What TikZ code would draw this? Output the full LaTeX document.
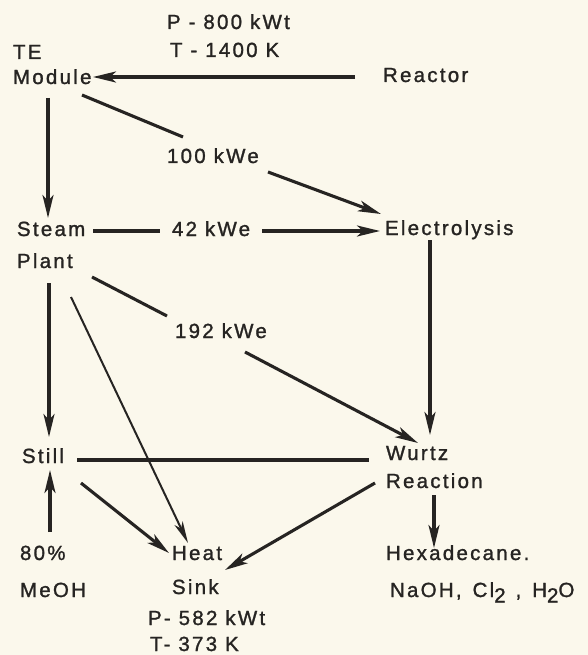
\documentclass[tikz,border=0pt]{standalone}
\usepackage{fontspec}
\setmainfont{Liberation Sans}[LetterSpace=11,FakeBold=1.3]
\usetikzlibrary{arrows.meta}
\definecolor{paper}{HTML}{FBF8EC}
\definecolor{ink}{HTML}{262422}
\newcommand{\lowsub}[1]{\raisebox{-5.5pt}{#1}}
\begin{document}
\begin{tikzpicture}[x=1pt,y=-1pt,
  txt/.style={anchor=base west,inner sep=0pt,outer sep=0pt,text=ink,font=\fontsize{20.5}{24}\selectfont},
  arr/.style={draw=ink,line width=3.1pt,-{Stealth[length=23pt,width=11pt,inset=6pt]}},
  thinarr/.style={draw=ink,line width=2pt,-{Stealth[length=22pt,width=9pt,inset=6pt]}},
  ln/.style={draw=ink,line width=3.1pt}]
\fill[paper] (0,0) rectangle (588,655);
\useasboundingbox (0,0) rectangle (588,655);

\node[txt] (p800) at (167,29) {P - 800 kWt};
\node[txt] (t1400) at (170,57) {T - 1400 K};
\node[txt] (te) at (13,59) {TE};
\node[txt] (module) at (13,84) {Module};
\node[txt] (reactor) at (383,82) {Reactor};
\node[txt] (kwe100) at (167,163) {100 kWe};
\node[txt] (steam) at (17,236) {Steam};
\node[txt] (kwe42) at (172,236) {42 kWe};
\node[txt] (elec) at (385,235) {Electrolysis};
\node[txt] (plant) at (17,268) {Plant};
\node[txt] (kwe192) at (175,338) {192 kWe};
\node[txt] (still) at (22,463) {Still};
\node[txt] (wurtz) at (386,460) {Wurtz};
\node[txt] (reaction) at (386,488) {Reaction};
\node[txt] (p80) at (20,560) {80\%};
\node[txt] (meoh) at (20,597) {MeOH};
\node[txt] (heat) at (172,560) {Heat};
\node[txt] (sink) at (172,594) {Sink};
\node[txt] (hexa) at (386,560) {Hexadecane.};
\node[txt] (naoh) at (390,597) {NaOH,\hspace{3pt} Cl\lowsub{2}\hspace{2pt} ,\hspace{3pt} H\lowsub{2}O};
\node[txt] (p582) at (148,625) {P- 582 kWt};
\node[txt] (t373) at (150,651) {T- 373 K};

% connector end points
\coordinate (rS) at (355,77);  \coordinate (mE) at (93,77);
\coordinate (mD1) at (82,95);  \coordinate (mD2) at (183,137);
\coordinate (eA1) at (268,172); \coordinate (eA2) at (381,214);
\coordinate (mB) at (48,98);   \coordinate (sT) at (48,218);
\coordinate (s1) at (93,231);  \coordinate (s2) at (160,231);
\coordinate (s3) at (262,231); \coordinate (eW) at (380,231);
\coordinate (eB) at (430,240); \coordinate (wT) at (430,435);
\coordinate (p1) at (92,277);  \coordinate (p2) at (167,316);
\coordinate (p3) at (245,352); \coordinate (wL) at (418,443);
\coordinate (pB) at (49,283);  \coordinate (stT) at (49,437);
\coordinate (pH) at (71,297);  \coordinate (hT) at (188,543);
\coordinate (stR) at (77,460); \coordinate (wW) at (369,460);
\coordinate (stD) at (81,483); \coordinate (hL) at (169,553);
\coordinate (mT) at (50,532);  \coordinate (stB) at (50,470);
\coordinate (rL) at (375,483); \coordinate (hR) at (225,570);
\coordinate (rB) at (434,495); \coordinate (hxT) at (434,548);

\draw[arr] (rS) -- (mE);
\draw[ln] (mD1) -- (mD2);
\draw[arr] (eA1) -- (eA2);
\draw[arr] (mB) -- (sT);
\draw[ln] (s1) -- (s2);
\draw[arr] (s3) -- (eW);
\draw[arr] (eB) -- (wT);
\draw[ln] (p1) -- (p2);
\draw[arr] (p3) -- (wL);
\draw[arr] (pB) -- (stT);
\draw[thinarr] (pH) -- (hT);
\draw[ln] (stR) -- (wW);
\draw[arr] (stD) -- (hL);
\draw[arr] (mT) -- (stB);
\draw[arr] (rL) -- (hR);
\draw[arr] (rB) -- (hxT);
\end{tikzpicture}
\end{document}
